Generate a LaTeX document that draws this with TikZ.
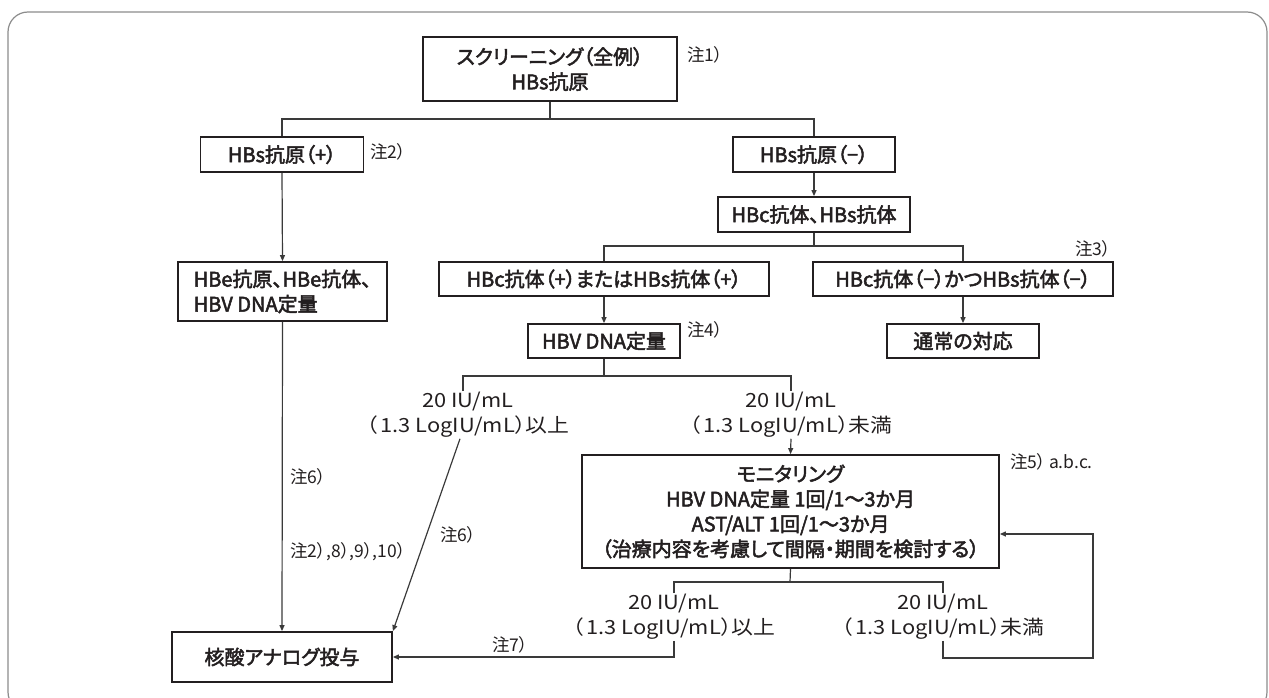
\documentclass[tikz,border=0pt]{standalone}
\usepackage{fontspec}
\usetikzlibrary{arrows.meta}
\newfontfamily\jpl{Noto Sans CJK JP}[RawFeature=+palt, FakeStretch=1.12]
\newfontfamily\jpn{Noto Sans CJK JP}[RawFeature=+palt]
\newcommand\fbx{\special{pdf:literal direct 2 Tr 0.5 w}\jpn\fontsize{20}{25}\selectfont}
\newcommand\flab{\jpl\fontsize{19.5}{25}\selectfont}
\newcommand\fnote{\jpn\fontsize{17.5}{20}\selectfont}
\definecolor{ink}{HTML}{231F20}
\definecolor{lin}{HTML}{3A3A3A}
\definecolor{frm}{HTML}{8C8C8C}
\tikzset{
  box/.style={draw=ink, line width=1.8pt, inner sep=0pt, align=center, font=\fbx, text=ink},
  lab/.style={align=center, font=\flab, inner sep=1pt, text=ink},
  note/.style={font=\fnote, inner sep=0pt, anchor=west, text=ink},
  conn/.style={draw=lin, line width=1.2pt},
  arr/.style={conn, -{Triangle[length=6pt,width=5pt]}},
}
\begin{document}
\begin{tikzpicture}[x=1pt,y=-1pt]
\useasboundingbox (0,0) rectangle (1269,698);
\begin{scope}
\clip (0,0) rectangle (1269,698);
\draw[frm, line width=1.2pt, rounded corners=20pt] (8,12) rectangle (1267,712);
\end{scope}

% boxes
\node[box, minimum width=254pt, minimum height=64pt] (top) at (550,69) {スクリーニング（全例）\\HBs抗原};
\node[box, minimum width=163pt, minimum height=35pt] (hbsp) at (282,154.5) {HBs抗原（+）};
\node[box, minimum width=162pt, minimum height=35pt] (hbsn) at (814,154.5) {HBs抗原（−）};
\node[box, minimum width=192pt, minimum height=35pt] (hbc) at (814,214.5) {HBc抗体、HBs抗体};
\node[box, minimum width=209pt, minimum height=59pt, align=left] (hbe) at (282.5,291.5) {HBe抗原、HBe抗体、\\HBV DNA定量};
\node[box, minimum width=330pt, minimum height=34pt] (cpos) at (604,279) {HBc抗体（+）またはHBs抗体（+）};
\node[box, minimum width=300pt, minimum height=34pt] (cneg) at (963,279) {HBc抗体（−）かつHBs抗体（−）};
\node[box, minimum width=152pt, minimum height=34pt] (dna) at (604,341) {HBV DNA定量};
\node[box, minimum width=152pt, minimum height=34pt] (normal) at (963,341) {通常の対応};
\node[box, minimum width=417pt, minimum height=113pt] (mon) at (790.5,511.5) {モニタリング\\HBV DNA定量 1回/1～3か月\\AST/ALT 1回/1～3か月\\（治療内容を考慮して間隔・期間を検討する）};
\node[box, minimum width=220pt, minimum height=50pt] (nuc) at (282,657) {核酸アナログ投与};

% labels
\node[lab, anchor=north] (l1) at (468,391) {20 IU/mL\\（\,1.3 LogIU/mL）以上};
\node[lab, anchor=north] (l2) at (791,391) {20 IU/mL\\（\,1.3 LogIU/mL）未満};
\node[lab, anchor=north] (l3) at (674,593) {20 IU/mL\\（\,1.3 LogIU/mL）以上};
\node[lab, anchor=north] (l4) at (943,593) {20 IU/mL\\（\,1.3 LogIU/mL）未満};

% notes
\node[note] (n1) at (687,55) {注1）};
\node[note] (n2) at (370,152) {注2）};
\node[note] (n3) at (1075,249) {注3）};
\node[note] (n4) at (687,330) {注4）};
\node[note] (n5) at (1010,462) {注5）\,a.b.c.};
\node[note] (n6a) at (290,477) {注6）};
\node[note] (n6b) at (290,552) {注2）,8）,9）,10）};
\node[note] (n6c) at (440,535) {注6）};
\node[note] (n7) at (492,645) {注7）};

% connectors
\coordinate (s1) at (550,119);
\draw[conn] (top.south) -- (s1);
\draw[conn] (hbsp.north) |- (s1) -| (hbsn.north);
\draw[arr] (hbsp.south) -- (hbe.north);
\draw[arr] (hbsn.south) -- (hbc.north);
\coordinate (s2) at (814,246);
\draw[conn] (hbc.south) -- (s2);
\draw[conn] (cpos.north) |- (s2) -| (cneg.north);
\draw[arr] (cpos.south) -- (dna.north);
\draw[arr] (cneg.south) -- (normal.north);
\coordinate (s3) at (604,376);
\draw[conn] (dna.south) -- (s3);
\draw[conn] ([xshift=-5pt]l1.north) |- (s3) -| (l2.north);
\draw[arr] (l2.south) -- (mon.north);
\draw[arr] ([xshift=-8pt]l1.south) -- (nuc.north east);
\draw[arr] (hbe.south) -- (nuc.north);
\coordinate (s4) at (790,582);
\draw[conn] (mon.south) -- (s4);
\draw[conn] (l3.north) |- (s4) -| (l4.north);
\draw[arr] (l3.south) |- (nuc.east);
\coordinate (r1) at (1093,658);
\draw[arr] (l4.south) |- (r1) |- ([yshift=-22.5pt]mon.east);
\end{tikzpicture}
\end{document}
